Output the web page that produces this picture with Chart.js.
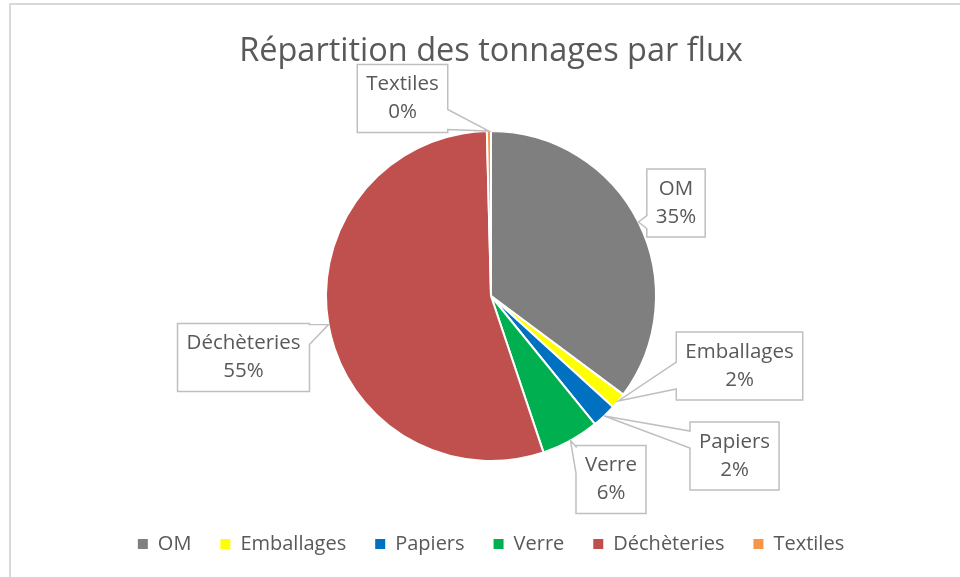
<!DOCTYPE html>
<html>
<head>
<meta charset="utf-8">
<script src="https://cdn.jsdelivr.net/npm/chart.js@4"></script>
<style type="text/css">
    html, body { margin: 0; padding: 0; background: #fff; }
    #wrap { position: relative; width: 960px; height: 577px; overflow: hidden; }
    #frame {
        position: absolute; left: 9px; top: 3px; right: -10px; bottom: -10px;
        border-left: 2px solid #d9d9d9; border-top: 2px solid #d9d9d9;
        pointer-events: none;
    }
</style>
</head>
<body>
<div id="wrap">
    <canvas id="pieChart" width="960" height="577"></canvas>
    <div id="frame"></div>
</div>

<script type="text/javascript">
const categories = ['OM', 'Emballages', 'Papiers', 'Verre', 'Déchèteries', 'Textiles'];
const shares = [35.2, 1.55, 2.4, 5.7, 54.75, 0.4];
const sliceColors = ['#7f7f7f', '#ffff00', '#0070c0', '#00b050', '#c0504d', '#f79646'];

// callout boxes: offset of the box centre from the pie centre, pointer base width,
// and how far the pointer base stays from the box corners
const calloutLayout = [
    { dx: 185, dy: -93, base: 13, inset: 3 },
    { dx: 248.5, dy: 70, base: 27, inset: 11 },
    { dx: 243.5, dy: 160, base: 17, inset: 9 },
    { dx: 120, dy: 183.5, base: 27, inset: 1 },
    { dx: -247.5, dy: 61.5, base: 20, inset: 1 },
    { dx: -88.5, dy: -197.5, base: 20, inset: 3 }
];

const textColor = '#595959';
const fontFamily = "'Open Sans', sans-serif";

function calloutPath(ctx, x0, y0, x1, y1, ax, ay, base, inset) {
    const cx = (x0 + x1) / 2, cy = (y0 + y1) / 2;
    const rx = (ax - cx) / ((x1 - x0) / 2), ry = (ay - cy) / ((y1 - y0) / 2);
    const hb = base / 2;
    let edge;
    if (Math.abs(rx) > Math.abs(ry)) edge = rx > 0 ? 'right' : 'left';
    else edge = ry > 0 ? 'bottom' : 'top';

    const clampH = v => Math.min(Math.max(v, x0 + inset + hb), x1 - inset - hb);
    const clampV = v => Math.min(Math.max(v, y0 + inset + hb), y1 - inset - hb);

    const pts = [[x0, y0]];
    if (edge === 'top') { const c = clampH(ax); pts.push([c - hb, y0], [ax, ay], [c + hb, y0]); }
    pts.push([x1, y0]);
    if (edge === 'right') { const c = clampV(ay); pts.push([x1, c - hb], [ax, ay], [x1, c + hb]); }
    pts.push([x1, y1]);
    if (edge === 'bottom') { const c = clampH(ax); pts.push([c + hb, y1], [ax, ay], [c - hb, y1]); }
    pts.push([x0, y1]);
    if (edge === 'left') { const c = clampV(ay); pts.push([x0, c + hb], [ax, ay], [x0, c - hb]); }

    ctx.beginPath();
    ctx.moveTo(pts[0][0], pts[0][1]);
    for (let i = 1; i < pts.length; i++) ctx.lineTo(pts[i][0], pts[i][1]);
    ctx.closePath();
}

const calloutPlugin = {
    id: 'callouts',
    afterDatasetsDraw(chart) {
        const ctx = chart.ctx;
        const meta = chart.getDatasetMeta(0);
        const data = chart.data.datasets[0].data;
        const total = data.reduce((a, b) => a + b, 0);
        ctx.save();
        ctx.font = '20.5px ' + fontFamily;
        ctx.textAlign = 'center';
        ctx.textBaseline = 'middle';
        meta.data.forEach(function (arc, i) {
            const mid = (arc.startAngle + arc.endAngle) / 2;
            const ax = arc.x + arc.outerRadius * Math.cos(mid);
            const ay = arc.y + arc.outerRadius * Math.sin(mid);
            const lines = [chart.data.labels[i], Math.round(data[i] / total * 100) + '%'];
            const w = Math.max(...lines.map(t => ctx.measureText(t).width)) + 18;
            const h = 68;
            const lay = calloutLayout[i];
            const bx = arc.x + lay.dx, by = arc.y + lay.dy;
            calloutPath(ctx, bx - w / 2, by - h / 2, bx + w / 2, by + h / 2, ax, ay, lay.base, lay.inset);
            ctx.fillStyle = '#fff';
            ctx.fill();
            ctx.strokeStyle = '#bfbfbf';
            ctx.lineWidth = 1.5;
            ctx.stroke();
            ctx.fillStyle = textColor;
            ctx.fillText(lines[0], bx, by - 14);
            ctx.fillText(lines[1], bx, by + 14);
        });
        ctx.restore();
    }
};

new Chart(document.getElementById('pieChart'), {
    type: 'pie',
    data: {
        labels: categories,
        datasets: [{
            data: shares,
            backgroundColor: sliceColors,
            borderColor: '#ffffff',
            borderWidth: 2,
            radius: 165
        }]
    },
    options: {
        responsive: false,
        animation: false,
        layout: { padding: { top: 0, left: 22, right: 0, bottom: 13 } },
        plugins: {
            tooltip: { enabled: false },
            title: {
                display: true,
                text: 'Répartition des tonnages par flux',
                color: textColor,
                font: { family: fontFamily, size: 32.5, weight: 'normal', lineHeight: 1.2 },
                padding: { top: 32, bottom: 16 }
            },
            legend: {
                position: 'bottom',
                labels: {
                    color: textColor,
                    font: { family: fontFamily, size: 20 },
                    boxWidth: 10,
                    boxHeight: 10,
                    padding: 29,
                    generateLabels(chart) {
                        return Chart.overrides.pie.plugins.legend.labels.generateLabels(chart).map(function (item) {
                            item.strokeStyle = item.fillStyle;
                            item.lineWidth = 0;
                            return item;
                        });
                    }
                }
            }
        }
    },
    plugins: [calloutPlugin]
});
</script>
</body>
</html>
